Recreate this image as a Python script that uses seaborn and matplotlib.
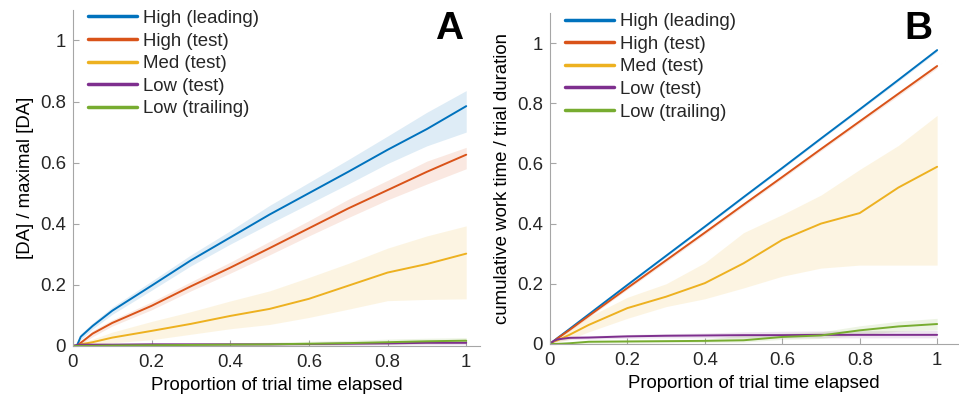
import numpy as np
import pandas as pd
import seaborn as sns
import matplotlib.pyplot as plt
from matplotlib.lines import Line2D

# sample points along the trial (proportion of time elapsed)
x = [0, 0.01, 0.02, 0.05, 0.1, 0.2, 0.3, 0.4, 0.5, 0.6, 0.7, 0.8, 0.9, 1.0]

labels = ['High (leading)', 'High (test)', 'Med (test)', 'Low (test)', 'Low (trailing)']
colors = ['#0072BD', '#D95319', '#EDB120', '#7E2F8E', '#77AC30']

# panel A: [DA] / maximal [DA]
a_high_lead = [0, 0.0, 0.03, 0.065, 0.115, 0.197, 0.28, 0.355, 0.43, 0.50, 0.57, 0.642, 0.71, 0.785]
a_high_lead_lo = [0, 0.0, 0.02, 0.055, 0.103, 0.182, 0.262, 0.333, 0.40, 0.465, 0.53, 0.597, 0.655, 0.70]
a_high_lead_hi = [0, 0.01, 0.04, 0.075, 0.127, 0.212, 0.298, 0.377, 0.46, 0.535, 0.61, 0.687, 0.765, 0.836]
a_high_test = [0, 0.0, 0.01, 0.04, 0.075, 0.131, 0.195, 0.256, 0.32, 0.385, 0.45, 0.51, 0.57, 0.626]
a_high_test_lo = [0, 0.0, 0.005, 0.03, 0.065, 0.118, 0.18, 0.238, 0.298, 0.36, 0.42, 0.478, 0.53, 0.58]
a_high_test_hi = [0, 0.005, 0.015, 0.05, 0.085, 0.144, 0.21, 0.274, 0.342, 0.41, 0.48, 0.542, 0.605, 0.65]
a_med = [0, 0.0, 0.005, 0.012, 0.027, 0.049, 0.072, 0.098, 0.121, 0.154, 0.197, 0.24, 0.268, 0.302]
a_med_lo = [0, 0.0, 0.0, 0.003, 0.01, 0.02, 0.038, 0.056, 0.07, 0.093, 0.12, 0.148, 0.152, 0.154]
a_med_hi = [0, 0.0, 0.01, 0.022, 0.045, 0.08, 0.112, 0.147, 0.18, 0.224, 0.27, 0.32, 0.36, 0.393]
a_low_test = [0, 0.003, 0.004, 0.004, 0.004, 0.005, 0.005, 0.005, 0.005, 0.006, 0.007, 0.008, 0.01, 0.01]
a_low_test_lo = [0, 0.0, 0.0, 0.0, 0.0, 0.0, 0.0, 0.0, 0.0, 0.001, 0.002, 0.003, 0.004, 0.004]
a_low_test_hi = [0, 0.006, 0.008, 0.008, 0.008, 0.01, 0.01, 0.01, 0.01, 0.011, 0.012, 0.013, 0.016, 0.016]
a_low_trail = [0, 0.0, 0.0, 0.0, 0.001, 0.002, 0.003, 0.004, 0.005, 0.007, 0.009, 0.012, 0.015, 0.017]
a_low_trail_lo = [0, 0.0, 0.0, 0.0, 0.0, 0.0, 0.0, 0.0, 0.0, 0.001, 0.003, 0.005, 0.007, 0.008]
a_low_trail_hi = [0, 0.0, 0.0, 0.002, 0.004, 0.006, 0.008, 0.01, 0.012, 0.015, 0.018, 0.022, 0.025, 0.027]

# panel B: cumulative work time / trial duration
b_high_lead = [0, 0.01, 0.02, 0.049, 0.098, 0.196, 0.293, 0.39, 0.488, 0.585, 0.683, 0.78, 0.878, 0.977]
b_high_lead_lo = [0, 0.008, 0.018, 0.046, 0.095, 0.192, 0.289, 0.386, 0.484, 0.581, 0.679, 0.776, 0.873, 0.972]
b_high_lead_hi = [0, 0.012, 0.022, 0.052, 0.101, 0.2, 0.297, 0.394, 0.492, 0.589, 0.687, 0.784, 0.883, 0.982]
b_high_test = [0, 0.009, 0.019, 0.046, 0.093, 0.186, 0.278, 0.37, 0.463, 0.555, 0.648, 0.74, 0.832, 0.924]
b_high_test_lo = [0, 0.007, 0.016, 0.042, 0.088, 0.181, 0.272, 0.364, 0.457, 0.549, 0.642, 0.734, 0.825, 0.917]
b_high_test_hi = [0, 0.011, 0.022, 0.05, 0.098, 0.191, 0.284, 0.376, 0.469, 0.561, 0.654, 0.746, 0.839, 0.931]
b_med = [0, 0.008, 0.012, 0.03, 0.063, 0.119, 0.157, 0.202, 0.268, 0.346, 0.40, 0.435, 0.52, 0.589]
b_med_lo = [0, 0.002, 0.005, 0.015, 0.04, 0.085, 0.124, 0.15, 0.186, 0.225, 0.252, 0.262, 0.262, 0.262]
b_med_hi = [0, 0.014, 0.02, 0.045, 0.09, 0.155, 0.2, 0.27, 0.37, 0.43, 0.495, 0.58, 0.66, 0.76]
b_low_test = [0, 0.01, 0.015, 0.02, 0.021, 0.025, 0.027, 0.028, 0.029, 0.029, 0.03, 0.03, 0.03, 0.03]
b_low_test_lo = [0, 0.006, 0.01, 0.014, 0.016, 0.019, 0.02, 0.02, 0.02, 0.02, 0.02, 0.02, 0.02, 0.02]
b_low_test_hi = [0, 0.014, 0.02, 0.026, 0.027, 0.031, 0.034, 0.036, 0.04, 0.042, 0.043, 0.044, 0.044, 0.045]
b_low_trail = [0, 0.0, 0.0, 0.002, 0.007, 0.008, 0.009, 0.01, 0.012, 0.023, 0.028, 0.045, 0.058, 0.066]
b_low_trail_lo = [0, 0.0, 0.0, 0.0, 0.002, 0.003, 0.004, 0.005, 0.006, 0.015, 0.018, 0.03, 0.042, 0.047]
b_low_trail_hi = [0, 0.0, 0.002, 0.004, 0.012, 0.013, 0.014, 0.015, 0.03, 0.035, 0.04, 0.06, 0.075, 0.085]

panel_a = [(a_high_lead, a_high_lead_lo, a_high_lead_hi),
           (a_high_test, a_high_test_lo, a_high_test_hi),
           (a_med, a_med_lo, a_med_hi),
           (a_low_test, a_low_test_lo, a_low_test_hi),
           (a_low_trail, a_low_trail_lo, a_low_trail_hi)]
panel_b = [(b_high_lead, b_high_lead_lo, b_high_lead_hi),
           (b_high_test, b_high_test_lo, b_high_test_hi),
           (b_med, b_med_lo, b_med_hi),
           (b_low_test, b_low_test_lo, b_low_test_hi),
           (b_low_trail, b_low_trail_lo, b_low_trail_hi)]

sns.set_style('white')
plt.rcParams['font.family'] = ['Liberation Sans', 'DejaVu Sans']
fs = 13.4
grey = '#a6a6a6'
txt = '#262626'


def long_df(series):
    rows = []
    for lab, (mean, lo, hi) in zip(labels, series):
        for xi, m in zip(x, mean):
            rows.append({'x': xi, 'y': m, 'cond': lab})
    return pd.DataFrame(rows)


def draw_panel(ax, series, ylabel, xmax):
    for col, (mean, lo, hi) in zip(colors, series):
        ax.fill_between(x, lo, hi, color=col, alpha=0.13, lw=0)
    sns.lineplot(data=long_df(series), x='x', y='y', hue='cond', palette=colors,
                 hue_order=labels, lw=1.4, ax=ax, legend=False)
    ax.set_xlim(0, xmax)
    ax.set_ylim(0, 1.1)
    ax.set_xticks([0, 0.2, 0.4, 0.6, 0.8, 1])
    ax.set_xticklabels(['0', '0.2', '0.4', '0.6', '0.8', '1'])
    ax.set_yticks([0, 0.2, 0.4, 0.6, 0.8, 1])
    ax.set_yticklabels(['0', '0.2', '0.4', '0.6', '0.8', '1'])
    ax.tick_params(bottom=True, left=True, direction='in', length=4, width=0.8,
                   color=grey, labelsize=fs, labelcolor=txt)
    ax.tick_params(axis='x', pad=6)
    ax.tick_params(axis='y', pad=5)
    for s in ['top', 'right']:
        ax.spines[s].set_visible(False)
    for s in ['left', 'bottom']:
        ax.spines[s].set_color(grey)
        ax.spines[s].set_linewidth(0.8)
    ax.set_xlabel('Proportion of trial time elapsed', fontsize=fs, color='black', labelpad=4)
    ax.set_ylabel(ylabel, fontsize=fs, color='black', labelpad=4)
    handles = [Line2D([], [], color=c, lw=2.5) for c in colors]
    ax.legend(handles, labels, loc='upper left', bbox_to_anchor=(0.037, 1.0),
              frameon=False, fontsize=fs, handlelength=2.65, handletextpad=0.3,
              labelspacing=0.3, borderpad=0, borderaxespad=0)


fig = plt.figure(figsize=(9.59, 3.98), dpi=100)
ax_a = fig.add_axes([0.076, 0.131, 0.4245, 0.844])
ax_b = fig.add_axes([0.5735, 0.136, 0.4255, 0.831])

draw_panel(ax_a, panel_a, '[DA] / maximal [DA]', 1.035)
draw_panel(ax_b, panel_b, 'cumulative work time / trial duration', 1.054)

# panel letters
fig.text(449 / 959, 1 - 39 / 398, 'A', ha='center', va='baseline',
         fontsize=28, fontweight='bold', color='black')
fig.text(918 / 959, 1 - 39 / 398, 'B', ha='center', va='baseline',
         fontsize=28, fontweight='bold', color='black')

fig.savefig('out.png', dpi=100)
